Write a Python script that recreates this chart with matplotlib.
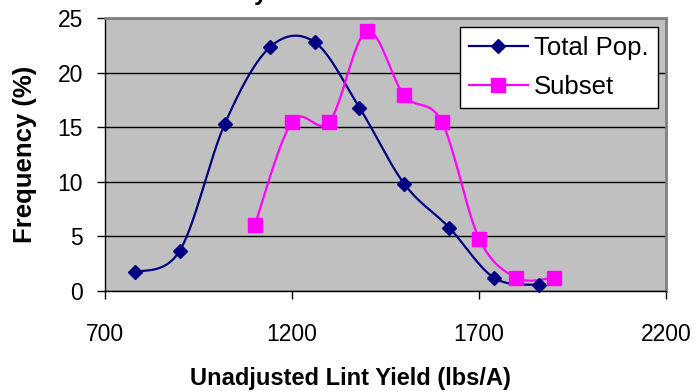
import numpy as np
import matplotlib.pyplot as plt
from matplotlib.lines import Line2D

plt.rcParams['font.family'] = ['Liberation Sans', 'DejaVu Sans']

# Данные
total_x = [780, 900, 1020, 1140, 1260, 1380, 1500, 1620, 1740, 1860]
total_y = [1.7, 3.7, 15.3, 22.3, 22.8, 16.8, 9.8, 5.8, 1.2, 0.55]
subset_x = [1100, 1200, 1300, 1400, 1500, 1600, 1700, 1800, 1900]
subset_y = [6.0, 15.5, 15.5, 23.8, 17.9, 15.5, 4.8, 1.2, 1.2]

x_ticks = [700, 1200, 1700, 2200]
y_ticks = [0, 5, 10, 15, 20, 25]

navy = '#000080'
magenta = '#FF00FF'


# Сглаживание как в Excel (Безье, контрольные точки 1/6)
def smooth(xs, ys, n=30):
    p = np.column_stack([xs, ys]).astype(float)
    pts = []
    for i in range(len(p) - 1):
        p0 = p[i - 1] if i > 0 else p[i]
        p3 = p[i + 2] if i + 2 < len(p) else p[i + 1]
        c1 = p[i] + (p[i + 1] - p0) / 6
        c2 = p[i + 1] - (p3 - p[i]) / 6
        t = np.linspace(0, 1, n)[:, None]
        seg = ((1 - t) ** 3 * p[i] + 3 * (1 - t) ** 2 * t * c1
               + 3 * (1 - t) * t ** 2 * c2 + t ** 3 * p[i + 1])
        pts.append(seg if i == 0 else seg[1:])
    pts = np.vstack(pts)
    return pts[:, 0], pts[:, 1]


fig = plt.figure(figsize=(6.96, 3.91), dpi=100)
ax = fig.add_axes([0.151, 0.256, 0.806, 0.698])
ax.set_facecolor('#C0C0C0')

ax.set_xlim(700, 2200)
ax.set_ylim(0, 25)
ax.set_xticks(x_ticks)
ax.set_yticks(y_ticks)
ax.tick_params(labelsize=16.5, length=6, width=1, direction='out')
ax.tick_params(axis='y', pad=10)
ax.tick_params(axis='x', pad=17)
ax.yaxis.grid(True, color='black', linewidth=1)
ax.set_axisbelow(True)

for s in ['left', 'bottom']:
    ax.spines[s].set_color('black')
    ax.spines[s].set_linewidth(1)
for s in ['top', 'right']:
    ax.spines[s].set_color('#808080')
    ax.spines[s].set_linewidth(2)

sx, sy = smooth(total_x, total_y)
ax.plot(sx, sy, color=navy, linewidth=1.6, clip_on=False)
ax.plot(total_x, total_y, linestyle='none', marker='D', markersize=7.4,
        color=navy, clip_on=False, zorder=4)

sx, sy = smooth(subset_x, subset_y)
ax.plot(sx, sy, color=magenta, linewidth=1.6, clip_on=False)
ax.plot(subset_x, subset_y, linestyle='none', marker='s', markersize=10.5,
        color=magenta, clip_on=False, zorder=4)

handles = [
    Line2D([], [], color=navy, linewidth=1.6, marker='D', markersize=7.4),
    Line2D([], [], color=magenta, linewidth=1.6, marker='s', markersize=10.5),
]
leg = ax.legend(handles, ['Total Pop.', 'Subset'], loc='upper right',
                bbox_to_anchor=(0.985, 0.967), fontsize=18.5, frameon=True,
                fancybox=False, edgecolor='black', framealpha=1,
                borderpad=0.35, handlelength=2.3, handletextpad=0.25,
                labelspacing=0.6, borderaxespad=0)
leg.get_frame().set_linewidth(1)

fig.text(0.503, 0.033, 'Unadjusted Lint Yield (lbs/A)', ha='center',
         va='center', fontsize=17, fontweight='bold')
fig.text(0.036, 0.606, 'Frequency (%)', ha='center', va='center',
         rotation=90, fontsize=18.5, fontweight='bold')
# обрезанный заголовок сверху
fig.text(0.374, 1.0, 'y', ha='center', va='baseline', fontsize=17,
         fontweight='bold')

fig.savefig('out.png', dpi=100)
